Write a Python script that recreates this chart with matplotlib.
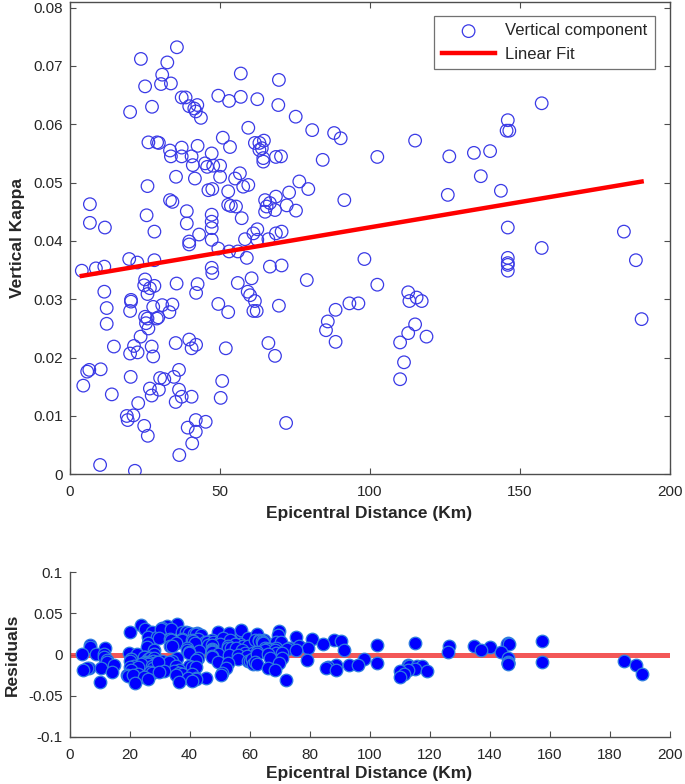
import numpy as np
import matplotlib
matplotlib.use("Agg")
import matplotlib.pyplot as plt
from matplotlib.ticker import FuncFormatter

plt.rcParams['font.family'] = ['Liberation Sans', 'DejaVu Sans']

# Epicentral distance (km) and vertical kappa
distance = [
    23.8, 25.2, 20.2, 27.5, 26.3, 29.2, 26.0, 6.8, 6.8, 11.8, 25.7, 28.3,
    4.1, 8.8, 11.6, 19.9, 22.6, 28.3, 11.6, 12.4, 12.4, 14.8, 25.2, 24.9,
    26.0, 26.8, 28.3, 20.5, 20.5, 20.2, 27.9, 25.2, 26.0, 25.5, 26.3, 29.1,
    23.7, 21.5, 20.2, 22.7, 27.4, 27.9, 6.6, 5.9, 10.4, 4.6, 14.1, 20.4,
    26.8, 27.4, 30.2, 22.9, 19.1, 19.4, 21.3, 24.9, 26.1, 10.2, 21.8,
    35.8, 32.6, 30.9, 30.5, 33.8, 37.4, 38.7, 39.9, 42.6, 41.6, 42.1, 43.8,
    49.6, 53.2, 57.1, 57.1, 59.6, 29.8, 33.5, 33.8, 37.4, 37.4, 40.7, 42.7,
    41.1, 47.4, 45.2, 45.9, 47.9, 50.2, 51.1, 53.5, 35.5, 41.8, 50.2, 56.8,
    55.2, 57.9, 59.6, 46.3, 47.6, 52.9, 33.5, 34.3, 52.9, 53.8, 55.5, 39.1,
    39.1, 57.4, 47.4, 47.4, 47.4, 43.2, 39.9, 47.4, 58.5, 61.3,
    39.9, 49.6, 53.2, 56.1, 59.1, 47.4, 47.6, 35.7, 42.7, 42.2, 56.1, 59.4,
    60.2, 60.7, 30.9, 34.3, 33.3, 29.6, 49.6, 52.9, 61.3, 35.4, 39.9, 40.7,
    42.2, 52.1, 36.5, 34.8, 31.6, 29.8, 36.5, 37.4, 35.4, 40.7, 50.9, 50.4,
    42.1, 45.4, 39.4, 42.1, 40.9, 36.6,
    69.8, 62.6, 69.6, 75.4, 80.9, 88.2, 90.4, 115.2, 61.8, 63.3, 64.8, 63.3,
    64.1, 64.6, 64.6, 68.8, 70.5, 84.4, 102.6, 126.6, 76.6, 79.6, 73.2, 68.8,
    65.2, 66.8, 65.7, 65.2, 68.5, 72.4, 75.5, 91.6, 126.1, 62.6, 68.8, 70.7,
    62.6, 66.3,
    66.8, 70.7, 79.1, 98.3, 102.6, 61.8, 62.4, 69.8, 88.7, 93.3, 96.3, 86.1,
    85.5, 88.7, 66.3, 68.5, 72.2, 112.9, 113.3, 115.7, 117.4, 115.2, 112.9,
    119.0, 110.2, 111.5, 110.2,
    157.4, 146.1, 145.7, 146.6, 134.8, 140.2, 137.1, 143.8, 146.1, 184.8,
    157.4, 146.1, 146.1, 146.1, 146.1, 188.8, 190.7,
]
kappa = [
    0.0712, 0.0665, 0.0621, 0.0630, 0.0569, 0.0569, 0.0494, 0.0463, 0.0431, 0.0423, 0.0444, 0.0416,
    0.0349, 0.0353, 0.0356, 0.0369, 0.0363, 0.0367, 0.0313, 0.0285, 0.0258, 0.0219, 0.0334, 0.0324,
    0.0309, 0.0319, 0.0323, 0.0299, 0.0296, 0.0280, 0.0287, 0.0270, 0.0267, 0.0259, 0.0250, 0.0267,
    0.0236, 0.0220, 0.0207, 0.0209, 0.0219, 0.0202, 0.0179, 0.0176, 0.0180, 0.0152, 0.0137, 0.0167,
    0.0147, 0.0135, 0.0165, 0.0122, 0.0100, 0.0093, 0.0101, 0.0083, 0.0066, 0.0016, 0.0006,
    0.0732, 0.0706, 0.0685, 0.0669, 0.0670, 0.0646, 0.0646, 0.0631, 0.0633, 0.0627, 0.0622, 0.0611,
    0.0649, 0.0640, 0.0647, 0.0687, 0.0594, 0.0568, 0.0555, 0.0545, 0.0560, 0.0545, 0.0545, 0.0563,
    0.0530, 0.0550, 0.0533, 0.0527, 0.0529, 0.0529, 0.0577, 0.0561, 0.0510, 0.0507, 0.0510, 0.0516,
    0.0507, 0.0493, 0.0496, 0.0487, 0.0489, 0.0485, 0.0470, 0.0467, 0.0462, 0.0460, 0.0459, 0.0451,
    0.0430, 0.0439, 0.0445, 0.0433, 0.0422, 0.0411, 0.0399, 0.0402, 0.0403, 0.0413,
    0.0394, 0.0387, 0.0382, 0.0382, 0.0371, 0.0354, 0.0345, 0.0327, 0.0326, 0.0311, 0.0328, 0.0313,
    0.0307, 0.0336, 0.0290, 0.0291, 0.0278, 0.0269, 0.0292, 0.0278, 0.0280, 0.0225, 0.0231, 0.0216,
    0.0222, 0.0216, 0.0179, 0.0167, 0.0163, 0.0145, 0.0145, 0.0133, 0.0124, 0.0133, 0.0160, 0.0131,
    0.0093, 0.0090, 0.0080, 0.0073, 0.0053, 0.0033,
    0.0676, 0.0643, 0.0633, 0.0613, 0.0590, 0.0585, 0.0576, 0.0572, 0.0568, 0.0568, 0.0572, 0.0556,
    0.0559, 0.0542, 0.0536, 0.0544, 0.0545, 0.0539, 0.0544, 0.0545, 0.0502, 0.0489, 0.0483, 0.0476,
    0.0470, 0.0465, 0.0459, 0.0450, 0.0453, 0.0461, 0.0452, 0.0470, 0.0479, 0.0420, 0.0413, 0.0416,
    0.0402, 0.0403,
    0.0356, 0.0358, 0.0333, 0.0369, 0.0325, 0.0297, 0.0280, 0.0289, 0.0282, 0.0293, 0.0293, 0.0262,
    0.0247, 0.0227, 0.0225, 0.0203, 0.0088, 0.0312, 0.0297, 0.0303, 0.0297, 0.0257, 0.0242,
    0.0236, 0.0226, 0.0192, 0.0163,
    0.0636, 0.0607, 0.0589, 0.0589, 0.0551, 0.0554, 0.0511, 0.0486, 0.0423, 0.0416,
    0.0388, 0.0371, 0.0362, 0.0359, 0.0349, 0.0367, 0.0266,
]

top_yticks = [0, 0.01, 0.02, 0.03, 0.04, 0.05, 0.06, 0.07, 0.08]
top_xticks = [0, 50, 100, 150, 200]
res_yticks = [-0.1, -0.05, 0, 0.05, 0.1]
res_xticks = [0, 20, 40, 60, 80, 100, 120, 140, 160, 180, 200]

x = np.array(distance)
y = np.array(kappa)
coef = np.polyfit(x, y, 1)
fit_x = np.array([x.min(), x.max()])
fit_y = np.polyval(coef, fit_x)
residuals = y - np.polyval(coef, x)

fig = plt.figure(figsize=(6.85, 7.84), dpi=100)
axc = '#4d4d4d'
txtc = '#262626'
fmt = FuncFormatter(lambda v, p: '%g' % round(v, 4))

# top axes: 0 at y=474.3 px, 0.08 at y=7.6 px; frame top at ~1.5 px
ppu = (474.3 - 7.6) / 0.08
top_px = 1.5
ymax_top = (474.3 - top_px) / ppu
ax1 = fig.add_axes([69.5/685, 1-474.3/784, 600/685, (474.3-top_px)/784])
ax1.scatter(x, y, s=82, facecolors='none', edgecolors='#3a3ae6', linewidths=0.9,
            label='Vertical component', zorder=3)
ax1.plot(fit_x, fit_y, color='#ff0000', lw=3.2, label='Linear Fit', zorder=4)
ax1.set_xlim(0, 200)
ax1.set_ylim(0, ymax_top)
ax1.set_xticks(top_xticks)
ax1.set_yticks(top_yticks)
ax1.yaxis.set_major_formatter(fmt)
ax1.tick_params(direction='in', top=True, right=True, length=4.5, width=0.8,
                color=axc, labelcolor=txtc, labelsize=11)
ax1.tick_params(axis='x', pad=8)
ax1.tick_params(axis='y', pad=5)
for s in ax1.spines.values():
    s.set_color(axc)
    s.set_linewidth(1.0)
ax1.set_xlabel('Epicentral Distance (Km)', fontsize=12.5, fontweight='bold', color=txtc, labelpad=5)
ax1.set_ylabel('Vertical Kappa', fontsize=12.5, fontweight='bold', color=txtc, labelpad=6)
leg = ax1.legend(fontsize=12, frameon=True, fancybox=False, edgecolor=axc,
                 borderpad=0.45, handlelength=3.2, labelspacing=0.5, handletextpad=0.6,
                 borderaxespad=0.0, loc='upper right',
                 bbox_to_anchor=((655 - 69.5) / 600, (474.3 - 16) / (474.3 - top_px)))
leg.get_frame().set_linewidth(0.9)
for t in leg.get_texts():
    t.set_color(txtc)

ax2 = fig.add_axes([69.5/685, 1-737/784, 600/685, (737-572)/784])
ax2.axhline(0, color='#f23a3a', lw=3.6, alpha=0.85, zorder=2)
ax2.scatter(x, residuals, s=82, facecolors='#0000ff', edgecolors='#2f7fe0', linewidths=0.9, zorder=3)
ax2.set_xlim(0, 200)
ax2.set_ylim(-0.1, 0.1)
ax2.set_xticks(res_xticks)
ax2.set_yticks(res_yticks)
ax2.yaxis.set_major_formatter(fmt)
ax2.spines['top'].set_visible(False)
ax2.spines['right'].set_visible(False)
for s in ['left', 'bottom']:
    ax2.spines[s].set_color(axc)
    ax2.spines[s].set_linewidth(1.0)
ax2.tick_params(direction='in', length=4.5, width=0.8, color=axc, labelcolor=txtc, labelsize=11)
ax2.tick_params(axis='x', pad=8)
ax2.tick_params(axis='y', pad=5)
ax2.set_xlabel('Epicentral Distance (Km)', fontsize=12.5, fontweight='bold', color=txtc, labelpad=3)
ax2.set_ylabel('Residuals', fontsize=12.5, fontweight='bold', color=txtc, labelpad=6)

fig.savefig('out.png', dpi=100)
